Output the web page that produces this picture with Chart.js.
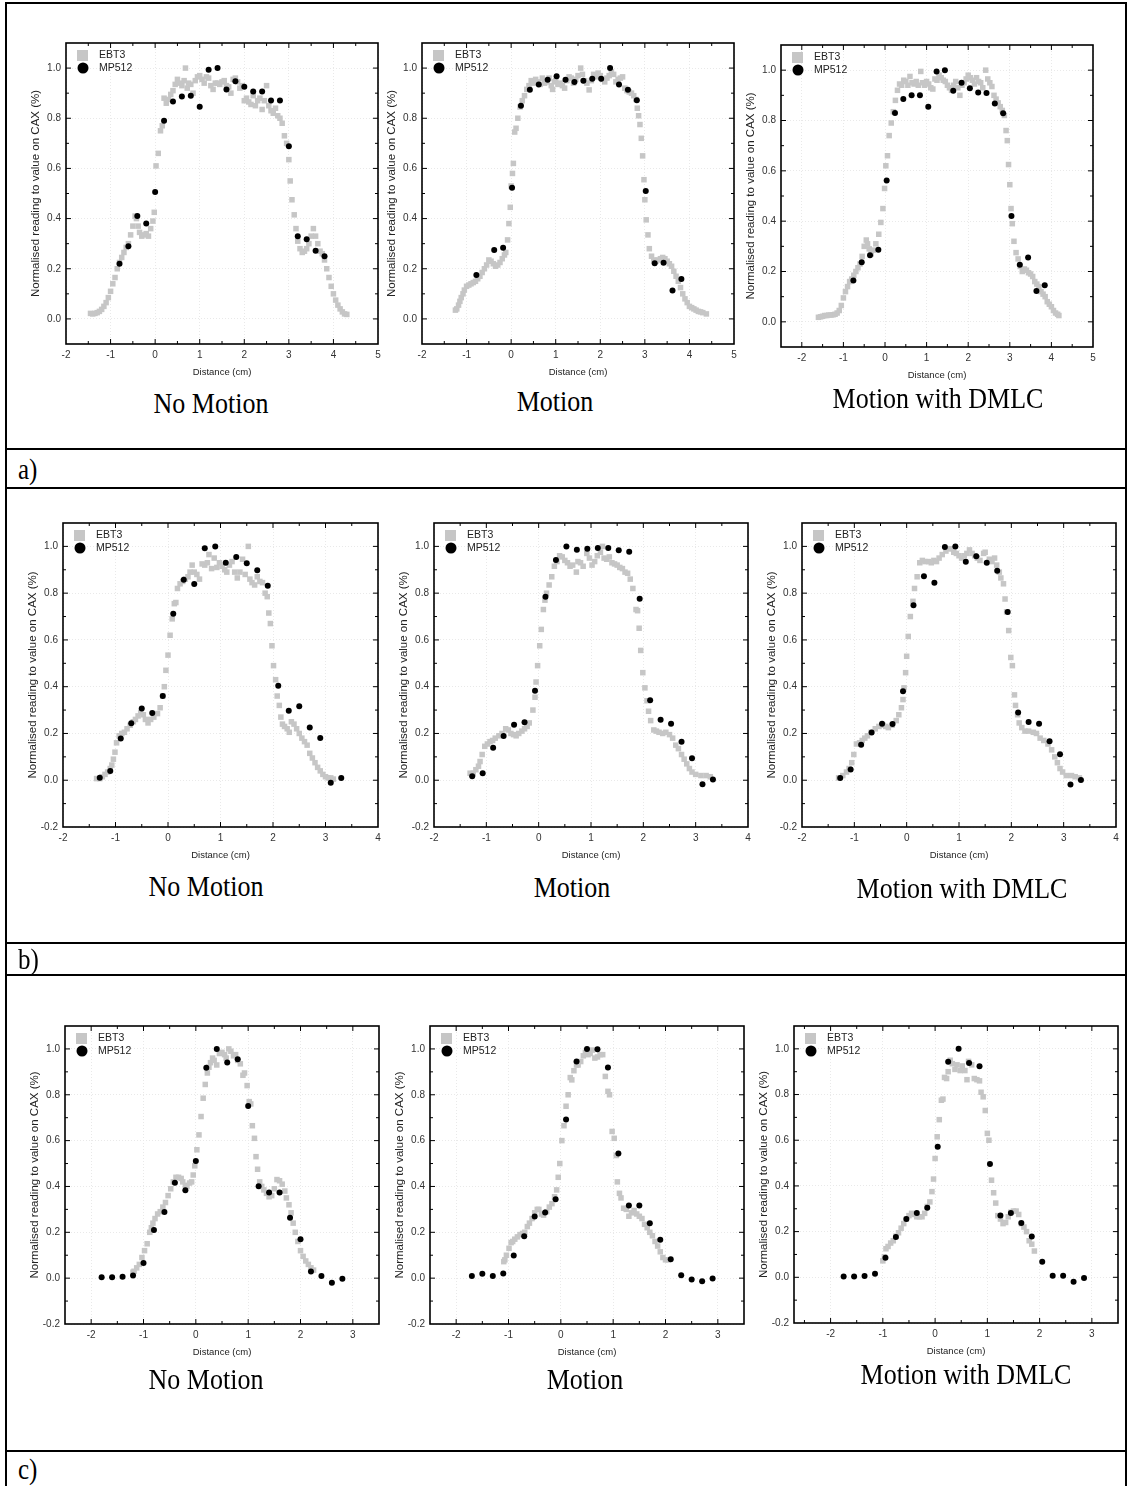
<!DOCTYPE html>
<html>
<head>
<meta charset="utf-8">
<script src="https://cdn.jsdelivr.net/npm/chart.js@4.4.1/dist/chart.umd.min.js"></script>
<style>
body{margin:0;background:#fff;}
#page{position:relative;width:1129px;height:1486px;overflow:hidden;background:#fff;}
.hl{position:absolute;height:2px;background:#000;}
.vl{position:absolute;width:2px;background:#000;}
.cap{position:absolute;font-family:"Liberation Serif","Times New Roman",serif;font-size:26px;color:#000;white-space:nowrap;transform:translate(-50%,-50%) scaleY(1.15);}
.tag{position:absolute;font-family:"Liberation Serif","Times New Roman",serif;font-size:25px;color:#000;transform:translateY(-50%) scaleY(1.15);}
canvas{position:absolute;}
</style>
</head>
<body>
<div id="page"></div>
<script>
// tick labels
const xTicksA = [-2, -1, 0, 1, 2, 3, 4, 5];
const xTicksB = [-2, -1, 0, 1, 2, 3, 4];
const xTicksC = [-2, -1, 0, 1, 2, 3];
const yTicksA = [0, 0.2, 0.4, 0.6, 0.8, 1.0];
const yTicksBC = [-0.2, 0, 0.2, 0.4, 0.6, 0.8, 1.0];

const captions = ['No Motion', 'Motion', 'Motion with DMLC'];
const rowTags = ['a)', 'b)', 'c)'];

// ---- row a ----
const mpX_a1 = [-0.8,-0.6,-0.4,-0.2,0,0.2,0.4,0.6,0.8,1.0,1.2,1.4,1.6,1.8,2.0,2.2,2.4,2.6,2.8,3.0,3.2,3.4,3.6,3.8];
const mpY_a1 = [0.22,0.29,0.41,0.38,0.506,0.79,0.867,0.887,0.89,0.846,0.993,1.0,0.915,0.948,0.926,0.907,0.907,0.871,0.871,0.688,0.33,0.318,0.272,0.25];
const ebt3_a1 = [[-1.45,0.022],[-1.4,0.02],[-1.35,0.022],[-1.3,0.025],[-1.25,0.03],[-1.2,0.038],[-1.15,0.05],[-1.1,0.065],[-1.05,0.085],[-1.0,0.11],[-0.95,0.14],[-0.9,0.165],[-0.85,0.2],[-0.8,0.225],[-0.75,0.245],[-0.7,0.265],[-0.65,0.285],[-0.6,0.3],[-0.55,0.335],[-0.5,0.37],[-0.45,0.41],[-0.42,0.4],[-0.38,0.37],[-0.35,0.345],[-0.3,0.33],[-0.25,0.335],[-0.2,0.34],[-0.15,0.33],[-0.1,0.36],[-0.05,0.39],[-0.02,0.425],[0.02,0.61],[0.07,0.66],[0.12,0.75],[0.16,0.77],[0.2,0.88],[0.25,0.86],[0.3,0.875],[0.35,0.895],[0.4,0.91],[0.45,0.935],[0.5,0.955],[0.55,0.94],[0.6,0.93],[0.65,0.95],[0.68,1.0],[0.72,0.92],[0.75,0.94],[0.8,0.935],[0.85,0.9],[0.9,0.95],[0.95,0.965],[1.0,0.97],[1.05,0.955],[1.1,0.94],[1.15,0.965],[1.2,0.96],[1.25,0.93],[1.3,0.915],[1.35,0.94],[1.4,0.94],[1.45,0.935],[1.5,0.945],[1.55,0.95],[1.6,0.93],[1.65,0.925],[1.7,0.9],[1.75,0.955],[1.8,0.96],[1.85,0.945],[1.9,0.92],[1.95,0.93],[2.0,0.87],[2.05,0.88],[2.1,0.865],[2.15,0.855],[2.2,0.89],[2.25,0.85],[2.3,0.87],[2.35,0.88],[2.4,0.835],[2.45,0.87],[2.5,0.93],[2.55,0.85],[2.6,0.83],[2.65,0.82],[2.7,0.84],[2.75,0.81],[2.8,0.8],[2.85,0.78],[2.9,0.73],[2.95,0.7],[3.0,0.635],[3.03,0.55],[3.07,0.475],[3.12,0.415],[3.16,0.36],[3.2,0.31],[3.25,0.28],[3.3,0.265],[3.35,0.27],[3.4,0.28],[3.45,0.3],[3.5,0.33],[3.55,0.36],[3.6,0.33],[3.65,0.3],[3.7,0.27],[3.75,0.26],[3.8,0.235],[3.85,0.2],[3.9,0.165],[3.95,0.13],[4.0,0.1],[4.05,0.075],[4.1,0.055],[4.15,0.04],[4.2,0.028],[4.25,0.02],[4.3,0.018]];

const mpX_a2 = [-0.78,-0.38,-0.18,0.02,0.22,0.42,0.62,0.82,1.02,1.22,1.42,1.62,1.82,2.02,2.22,2.42,2.62,2.82,3.02,3.22,3.42,3.62,3.82];
const mpY_a2 = [0.175,0.275,0.284,0.523,0.85,0.914,0.935,0.953,0.967,0.953,0.945,0.95,0.957,0.957,1.0,0.935,0.914,0.872,0.51,0.222,0.224,0.113,0.159];
const ebt3_a2 = [[-1.25,0.035],[-1.22,0.04],[-1.18,0.055],[-1.15,0.07],[-1.12,0.085],[-1.08,0.1],[-1.05,0.115],[-1.0,0.13],[-0.95,0.135],[-0.9,0.14],[-0.85,0.145],[-0.8,0.15],[-0.75,0.16],[-0.7,0.17],[-0.65,0.185],[-0.6,0.2],[-0.55,0.215],[-0.5,0.235],[-0.45,0.23],[-0.4,0.22],[-0.35,0.21],[-0.3,0.215],[-0.25,0.225],[-0.2,0.24],[-0.15,0.255],[-0.12,0.265],[-0.08,0.315],[-0.05,0.38],[-0.02,0.445],[0.0,0.53],[0.03,0.58],[0.05,0.62],[0.08,0.745],[0.11,0.76],[0.15,0.8],[0.2,0.845],[0.25,0.87],[0.3,0.89],[0.35,0.915],[0.4,0.93],[0.45,0.95],[0.5,0.94],[0.55,0.955],[0.6,0.945],[0.65,0.935],[0.7,0.96],[0.75,0.94],[0.8,0.945],[0.85,0.96],[0.9,0.93],[0.93,0.915],[0.97,0.945],[1.0,0.95],[1.05,0.935],[1.1,0.94],[1.15,0.93],[1.2,0.92],[1.25,0.95],[1.3,0.965],[1.35,0.96],[1.4,0.94],[1.45,0.955],[1.5,0.97],[1.56,1.0],[1.6,0.975],[1.65,0.95],[1.7,0.94],[1.75,0.913],[1.8,0.95],[1.85,0.975],[1.9,0.965],[1.95,0.98],[2.0,0.97],[2.05,0.955],[2.1,0.945],[2.15,0.96],[2.2,0.97],[2.25,0.985],[2.3,0.975],[2.35,0.945],[2.4,0.955],[2.45,0.96],[2.5,0.965],[2.55,0.92],[2.6,0.91],[2.65,0.905],[2.7,0.9],[2.75,0.89],[2.8,0.875],[2.83,0.84],[2.86,0.81],[2.89,0.775],[2.92,0.72],[2.95,0.65],[2.98,0.555],[3.0,0.475],[3.03,0.395],[3.07,0.335],[3.1,0.28],[3.15,0.25],[3.2,0.235],[3.25,0.23],[3.3,0.235],[3.35,0.24],[3.4,0.245],[3.45,0.24],[3.5,0.23],[3.55,0.22],[3.6,0.21],[3.65,0.19],[3.7,0.17],[3.75,0.15],[3.8,0.125],[3.85,0.1],[3.9,0.08],[3.95,0.065],[4.0,0.05],[4.05,0.045],[4.1,0.04],[4.15,0.035],[4.2,0.03],[4.25,0.028],[4.3,0.025],[4.38,0.02]];

const mpX_a3 = [-0.76,-0.56,-0.36,-0.16,0.04,0.24,0.44,0.64,0.84,1.04,1.24,1.44,1.64,1.84,2.04,2.24,2.44,2.64,2.84,3.04,3.24,3.44,3.64,3.84];
const mpY_a3 = [0.164,0.237,0.265,0.286,0.562,0.83,0.885,0.9,0.9,0.855,0.995,1.0,0.918,0.95,0.928,0.911,0.909,0.868,0.829,0.421,0.227,0.256,0.123,0.145];
const ebt3_a3 = [[-1.6,0.018],[-1.55,0.02],[-1.5,0.022],[-1.45,0.025],[-1.4,0.025],[-1.35,0.027],[-1.3,0.027],[-1.25,0.028],[-1.2,0.03],[-1.15,0.035],[-1.1,0.045],[-1.05,0.065],[-1.0,0.095],[-0.95,0.12],[-0.9,0.14],[-0.85,0.16],[-0.8,0.17],[-0.75,0.185],[-0.7,0.2],[-0.65,0.215],[-0.6,0.23],[-0.55,0.26],[-0.5,0.3],[-0.45,0.325],[-0.42,0.31],[-0.38,0.29],[-0.33,0.27],[-0.28,0.285],[-0.22,0.31],[-0.15,0.348],[-0.1,0.395],[-0.05,0.45],[-0.01,0.53],[0.02,0.62],[0.06,0.66],[0.1,0.74],[0.15,0.79],[0.2,0.835],[0.25,0.88],[0.3,0.92],[0.35,0.945],[0.4,0.94],[0.45,0.96],[0.5,0.955],[0.55,0.94],[0.6,0.975],[0.65,0.95],[0.7,0.945],[0.75,0.955],[0.8,0.94],[0.86,0.995],[0.9,0.95],[0.95,0.94],[1.0,0.955],[1.05,0.945],[1.1,0.93],[1.15,0.925],[1.2,0.965],[1.25,0.96],[1.3,0.98],[1.35,0.97],[1.4,0.96],[1.45,0.955],[1.5,0.94],[1.55,0.93],[1.6,0.92],[1.65,0.94],[1.7,0.955],[1.75,0.93],[1.8,0.9],[1.85,0.94],[1.9,0.95],[1.95,0.965],[2.0,0.98],[2.05,0.97],[2.1,0.96],[2.15,0.945],[2.2,0.97],[2.25,0.955],[2.3,0.95],[2.35,0.93],[2.42,1.0],[2.47,0.965],[2.52,0.95],[2.57,0.935],[2.62,0.9],[2.67,0.885],[2.72,0.87],[2.77,0.855],[2.82,0.84],[2.87,0.82],[2.91,0.76],[2.94,0.72],[2.97,0.625],[3.0,0.545],[3.03,0.45],[3.06,0.39],[3.1,0.32],[3.15,0.275],[3.2,0.25],[3.25,0.22],[3.3,0.2],[3.35,0.21],[3.4,0.205],[3.45,0.195],[3.5,0.19],[3.55,0.18],[3.6,0.16],[3.65,0.15],[3.7,0.14],[3.75,0.12],[3.8,0.11],[3.85,0.1],[3.9,0.08],[3.95,0.07],[4.0,0.06],[4.05,0.045],[4.1,0.035],[4.15,0.03],[4.18,0.025]];

// ---- row b ----
const mpX_b1 = [-1.3,-1.1,-0.9,-0.7,-0.5,-0.3,-0.1,0.1,0.3,0.5,0.7,0.9,1.1,1.3,1.5,1.7,1.9,2.1,2.3,2.5,2.7,2.9,3.1,3.3];
const mpY_b1 = [0.011,0.039,0.178,0.244,0.307,0.288,0.36,0.712,0.857,0.839,0.992,1.0,0.93,0.955,0.928,0.898,0.832,0.404,0.297,0.316,0.226,0.181,-0.011,0.01];
const ebt3_b1 = [[-1.36,0.007],[-1.3,0.007],[-1.25,0.015],[-1.2,0.025],[-1.15,0.035],[-1.1,0.05],[-1.07,0.065],[-1.04,0.09],[-1.01,0.12],[-0.98,0.16],[-0.93,0.19],[-0.88,0.2],[-0.83,0.205],[-0.78,0.22],[-0.72,0.235],[-0.66,0.25],[-0.62,0.26],[-0.57,0.275],[-0.52,0.29],[-0.47,0.28],[-0.43,0.26],[-0.38,0.245],[-0.33,0.26],[-0.27,0.27],[-0.2,0.285],[-0.15,0.31],[-0.1,0.36],[-0.07,0.4],[-0.04,0.47],[0.0,0.535],[0.04,0.62],[0.08,0.69],[0.12,0.755],[0.15,0.76],[0.18,0.82],[0.23,0.84],[0.28,0.85],[0.33,0.86],[0.38,0.87],[0.42,0.89],[0.46,0.92],[0.5,0.89],[0.55,0.88],[0.6,0.86],[0.65,0.925],[0.7,0.92],[0.75,0.93],[0.78,0.965],[0.83,0.905],[0.88,0.95],[0.93,0.91],[0.98,0.93],[1.03,0.915],[1.08,0.9],[1.12,0.89],[1.17,0.92],[1.22,0.935],[1.27,0.89],[1.32,0.865],[1.37,0.89],[1.42,0.945],[1.47,0.88],[1.53,1.0],[1.56,0.86],[1.6,0.845],[1.65,0.835],[1.7,0.87],[1.75,0.85],[1.8,0.845],[1.85,0.8],[1.89,0.785],[1.92,0.715],[1.95,0.67],[1.98,0.575],[2.01,0.49],[2.05,0.43],[2.08,0.36],[2.12,0.32],[2.15,0.27],[2.18,0.24],[2.22,0.23],[2.27,0.22],[2.31,0.205],[2.35,0.25],[2.4,0.24],[2.45,0.22],[2.5,0.2],[2.55,0.18],[2.6,0.165],[2.65,0.15],[2.7,0.115],[2.75,0.095],[2.8,0.075],[2.85,0.055],[2.9,0.04],[2.95,0.025],[3.0,0.015],[3.05,0.01],[3.1,0.01],[3.15,0.005]];

const mpX_b2 = [-1.27,-1.07,-0.87,-0.67,-0.47,-0.27,-0.07,0.13,0.33,0.53,0.73,0.93,1.13,1.33,1.53,1.73,1.93,2.13,2.33,2.53,2.73,2.93,3.13,3.33];
const mpY_b2 = [0.017,0.03,0.139,0.189,0.237,0.248,0.383,0.785,0.942,1.0,0.986,0.99,0.993,0.993,0.983,0.977,0.776,0.342,0.259,0.241,0.165,0.094,-0.017,0.003];
const ebt3_b2 = [[-1.31,0.03],[-1.25,0.03],[-1.2,0.045],[-1.15,0.06],[-1.12,0.08],[-1.08,0.11],[-1.03,0.145],[-0.98,0.155],[-0.93,0.165],[-0.88,0.17],[-0.83,0.18],[-0.76,0.19],[-0.7,0.2],[-0.63,0.22],[-0.58,0.215],[-0.53,0.2],[-0.48,0.195],[-0.43,0.19],[-0.38,0.2],[-0.32,0.21],[-0.27,0.22],[-0.22,0.23],[-0.18,0.245],[-0.11,0.3],[-0.07,0.355],[-0.05,0.42],[-0.02,0.49],[0.02,0.575],[0.05,0.645],[0.09,0.73],[0.12,0.77],[0.15,0.8],[0.2,0.835],[0.25,0.87],[0.3,0.915],[0.35,0.935],[0.4,0.96],[0.45,0.955],[0.5,0.94],[0.55,0.93],[0.6,0.915],[0.65,0.92],[0.72,0.89],[0.75,0.935],[0.8,0.93],[0.85,0.915],[0.92,0.97],[0.97,0.95],[1.02,0.92],[1.07,0.935],[1.12,0.96],[1.18,0.975],[1.22,1.0],[1.25,0.95],[1.3,0.945],[1.35,0.955],[1.4,0.93],[1.45,0.925],[1.5,0.92],[1.55,0.91],[1.6,0.905],[1.65,0.89],[1.7,0.885],[1.75,0.86],[1.8,0.82],[1.86,0.73],[1.89,0.725],[1.92,0.65],[1.95,0.555],[1.99,0.46],[2.03,0.395],[2.07,0.34],[2.1,0.295],[2.14,0.255],[2.2,0.215],[2.25,0.21],[2.3,0.205],[2.37,0.2],[2.43,0.205],[2.5,0.195],[2.56,0.18],[2.62,0.15],[2.67,0.135],[2.73,0.11],[2.78,0.09],[2.83,0.07],[2.88,0.05],[2.93,0.035],[3.0,0.025],[3.1,0.02],[3.2,0.02],[3.28,0.015]];

const mpX_b3 = [-1.27,-1.07,-0.87,-0.67,-0.47,-0.27,-0.07,0.13,0.33,0.53,0.73,0.93,1.13,1.33,1.53,1.73,1.93,2.13,2.33,2.53,2.73,2.93,3.13,3.33];
const mpY_b3 = [0.01,0.046,0.152,0.204,0.242,0.24,0.38,0.748,0.872,0.845,0.997,1.0,0.934,0.958,0.93,0.896,0.719,0.29,0.249,0.241,0.167,0.111,-0.018,0.001];
const ebt3_b3 = [[-1.3,0.01],[-1.22,0.02],[-1.15,0.035],[-1.1,0.05],[-1.05,0.075],[-1.01,0.11],[-0.96,0.155],[-0.9,0.16],[-0.85,0.17],[-0.8,0.18],[-0.75,0.19],[-0.68,0.205],[-0.6,0.22],[-0.53,0.23],[-0.45,0.235],[-0.4,0.23],[-0.35,0.225],[-0.28,0.235],[-0.2,0.255],[-0.15,0.28],[-0.1,0.31],[-0.07,0.345],[-0.05,0.395],[-0.02,0.46],[0.0,0.53],[0.03,0.615],[0.07,0.7],[0.12,0.765],[0.15,0.82],[0.2,0.87],[0.25,0.93],[0.3,0.94],[0.35,0.935],[0.42,0.935],[0.47,0.93],[0.52,0.94],[0.57,0.935],[0.62,0.95],[0.68,0.965],[0.75,0.98],[0.8,0.99],[0.85,0.99],[0.9,0.975],[0.95,0.97],[1.0,0.96],[1.05,0.95],[1.1,0.96],[1.15,0.97],[1.2,0.985],[1.25,0.97],[1.3,0.96],[1.35,0.95],[1.4,0.94],[1.47,0.97],[1.5,0.975],[1.58,0.945],[1.63,0.935],[1.68,0.95],[1.72,0.92],[1.77,0.89],[1.8,0.865],[1.85,0.84],[1.88,0.775],[1.91,0.72],[1.95,0.64],[1.99,0.525],[2.02,0.49],[2.06,0.365],[2.08,0.32],[2.12,0.28],[2.15,0.245],[2.2,0.225],[2.26,0.21],[2.33,0.21],[2.42,0.205],[2.48,0.2],[2.55,0.18],[2.62,0.17],[2.7,0.155],[2.77,0.13],[2.83,0.1],[2.88,0.075],[2.93,0.05],[2.98,0.035],[3.05,0.02],[3.15,0.02],[3.22,0.015],[3.3,0.01]];

// ---- row c ----
const mpX_c1 = [-1.8,-1.6,-1.4,-1.2,-1.0,-0.8,-0.6,-0.4,-0.2,0,0.2,0.4,0.6,0.8,1.0,1.2,1.4,1.6,1.8,2.0,2.2,2.4,2.6,2.8];
const mpY_c1 = [0.004,0.004,0.006,0.012,0.066,0.21,0.289,0.416,0.383,0.511,0.918,1.0,0.941,0.955,0.751,0.401,0.374,0.374,0.263,0.17,0.029,0.009,-0.02,-0.003];
const ebt3_c1 = [[-1.2,0.026],[-1.18,0.03],[-1.13,0.045],[-1.08,0.06],[-1.03,0.09],[-0.98,0.12],[-0.93,0.15],[-0.88,0.2],[-0.85,0.22],[-0.82,0.24],[-0.78,0.26],[-0.73,0.28],[-0.68,0.29],[-0.63,0.31],[-0.58,0.33],[-0.53,0.36],[-0.48,0.39],[-0.43,0.42],[-0.38,0.44],[-0.33,0.44],[-0.28,0.435],[-0.25,0.42],[-0.2,0.405],[-0.17,0.4],[-0.12,0.415],[-0.08,0.42],[-0.05,0.45],[-0.02,0.49],[0.02,0.56],[0.06,0.625],[0.1,0.705],[0.14,0.785],[0.18,0.845],[0.22,0.895],[0.25,0.92],[0.28,0.94],[0.32,0.96],[0.35,0.95],[0.4,0.93],[0.45,0.98],[0.5,0.985],[0.55,0.975],[0.58,0.96],[0.63,1.0],[0.67,0.99],[0.72,0.97],[0.76,0.975],[0.8,0.95],[0.85,0.935],[0.9,0.885],[0.93,0.895],[0.98,0.84],[1.02,0.77],[1.05,0.76],[1.08,0.665],[1.12,0.61],[1.15,0.53],[1.18,0.475],[1.22,0.42],[1.26,0.4],[1.3,0.385],[1.35,0.37],[1.4,0.355],[1.45,0.36],[1.5,0.39],[1.55,0.43],[1.6,0.425],[1.65,0.41],[1.7,0.38],[1.73,0.35],[1.78,0.32],[1.82,0.285],[1.86,0.24],[1.9,0.2],[1.95,0.16],[2.0,0.12],[2.05,0.095],[2.1,0.075],[2.15,0.06],[2.2,0.045],[2.25,0.035]];

const mpX_c2 = [-1.7,-1.5,-1.3,-1.1,-0.9,-0.7,-0.5,-0.3,-0.1,0.1,0.3,0.5,0.7,0.9,1.1,1.3,1.5,1.7,1.9,2.1,2.3,2.5,2.7,2.9];
const mpY_c2 = [0.009,0.019,0.009,0.02,0.099,0.183,0.269,0.286,0.344,0.692,0.945,1.0,0.999,0.919,0.544,0.317,0.317,0.24,0.167,0.082,0.013,-0.006,-0.013,-0.001];
const ebt3_c2 = [[-1.09,0.072],[-1.07,0.08],[-1.04,0.1],[-0.99,0.13],[-0.95,0.155],[-0.92,0.16],[-0.88,0.17],[-0.83,0.18],[-0.78,0.19],[-0.73,0.195],[-0.69,0.2],[-0.64,0.225],[-0.6,0.24],[-0.55,0.26],[-0.5,0.285],[-0.45,0.3],[-0.42,0.3],[-0.37,0.28],[-0.33,0.275],[-0.27,0.29],[-0.22,0.31],[-0.17,0.325],[-0.12,0.355],[-0.08,0.385],[-0.05,0.44],[-0.02,0.5],[0.02,0.6],[0.06,0.665],[0.1,0.75],[0.14,0.8],[0.18,0.875],[0.21,0.865],[0.25,0.905],[0.3,0.93],[0.33,0.93],[0.38,0.945],[0.43,0.97],[0.47,0.985],[0.52,0.975],[0.56,0.98],[0.6,0.995],[0.65,0.96],[0.7,0.965],[0.75,0.975],[0.8,0.975],[0.85,0.88],[0.9,0.815],[0.93,0.8],[0.98,0.64],[1.02,0.61],[1.06,0.535],[1.08,0.42],[1.12,0.37],[1.15,0.35],[1.2,0.305],[1.25,0.3],[1.3,0.27],[1.35,0.285],[1.4,0.295],[1.45,0.28],[1.5,0.27],[1.55,0.26],[1.6,0.235],[1.65,0.22],[1.7,0.2],[1.75,0.185],[1.8,0.16],[1.85,0.14],[1.9,0.115],[1.95,0.09],[2.0,0.08],[2.05,0.08]];

const mpX_c3 = [-1.75,-1.55,-1.35,-1.15,-0.95,-0.75,-0.55,-0.35,-0.15,0.05,0.25,0.45,0.65,0.85,1.05,1.25,1.45,1.65,1.85,2.05,2.25,2.45,2.65,2.85];
const mpY_c3 = [0.003,0.003,0.006,0.016,0.086,0.176,0.255,0.281,0.304,0.571,0.944,1.0,0.938,0.924,0.496,0.271,0.282,0.238,0.179,0.068,0.007,0.007,-0.019,-0.003];
const ebt3_c3 = [[-1.0,0.072],[-0.97,0.09],[-0.94,0.125],[-0.9,0.135],[-0.85,0.15],[-0.8,0.16],[-0.75,0.18],[-0.7,0.195],[-0.65,0.215],[-0.6,0.235],[-0.55,0.255],[-0.5,0.27],[-0.45,0.28],[-0.4,0.275],[-0.35,0.265],[-0.3,0.265],[-0.25,0.265],[-0.2,0.28],[-0.15,0.31],[-0.1,0.33],[-0.06,0.375],[-0.03,0.43],[0.0,0.52],[0.04,0.615],[0.08,0.69],[0.12,0.775],[0.15,0.78],[0.18,0.875],[0.22,0.87],[0.25,0.9],[0.29,0.95],[0.33,0.935],[0.38,0.91],[0.42,0.93],[0.48,0.905],[0.52,0.925],[0.57,0.905],[0.61,0.865],[0.64,0.945],[0.7,0.93],[0.75,0.87],[0.8,0.865],[0.85,0.86],[0.88,0.81],[0.92,0.79],[0.96,0.73],[1.0,0.63],[1.03,0.6],[1.08,0.425],[1.12,0.37],[1.16,0.325],[1.2,0.27],[1.25,0.255],[1.3,0.235],[1.35,0.24],[1.4,0.265],[1.45,0.285],[1.5,0.29],[1.55,0.29],[1.6,0.275],[1.65,0.235],[1.7,0.22],[1.75,0.2],[1.8,0.16],[1.85,0.145],[1.9,0.115]];

const page = document.getElementById('page');

// inward ticks on all four sides, frame, legend in the top left corner
const framePlugin = {
    id: 'frame',
    afterDraw(chart) {
        const ctx = chart.ctx, a = chart.chartArea;
        const xs = chart.scales.x, ys = chart.scales.y;
        ctx.save();
        ctx.strokeStyle = '#000';
        ctx.lineWidth = 1;
        function seg(x1, y1, x2, y2) {
            ctx.beginPath(); ctx.moveTo(x1, y1); ctx.lineTo(x2, y2); ctx.stroke();
        }
        function ticksFor(scale, sub) {
            const major = scale.ticks.map(t => t.value);
            const step = (major[1] - major[0]) / sub;
            let v = major[0];
            while (v - step >= scale.min - 1e-9) v -= step;
            const out = [];
            for (; v <= scale.max + 1e-9; v += step) {
                const isMajor = major.some(m => Math.abs(m - v) < 1e-6);
                out.push([v, isMajor ? 5 : 3]);
            }
            return out;
        }
        ticksFor(xs, 2).forEach(([v, len]) => {
            const px = xs.getPixelForValue(v);
            if (px < a.left + 1 || px > a.right - 1) return;
            seg(px, a.bottom, px, a.bottom - len);
            seg(px, a.top, px, a.top + len);
        });
        ticksFor(ys, 2).forEach(([v, len]) => {
            const py = ys.getPixelForValue(v);
            if (py < a.top + 1 || py > a.bottom - 1) return;
            seg(a.left, py, a.left + len, py);
            seg(a.right, py, a.right - len, py);
        });
        ctx.lineWidth = 1.6;
        ctx.strokeRect(a.left, a.top, a.right - a.left, a.bottom - a.top);

        // legend
        const ds = chart.data.datasets;
        ctx.fillStyle = ds[0].pointBackgroundColor;
        ctx.fillRect(a.left + 11, a.top + 7, 11, 11);
        ctx.fillStyle = ds[1].pointBackgroundColor;
        ctx.beginPath();
        ctx.arc(a.left + 17, a.top + 25, 5.5, 0, Math.PI * 2);
        ctx.fill();
        ctx.font = '10.5px "Liberation Sans", Arial, sans-serif';
        ctx.fillStyle = '#222';
        ctx.textBaseline = 'middle';
        ctx.fillText(ds[0].label, a.left + 33, a.top + 12.5);
        ctx.fillText(ds[1].label, a.left + 33, a.top + 25.5);
        ctx.restore();
    }
};

function addPanel(p) {
    const L = 64, T = 8, R = 10, B = 40;
    const pw = p.box[2] - p.box[0], ph = p.box[3] - p.box[1];
    const cv = document.createElement('canvas');
    cv.width = pw + L + R;
    cv.height = ph + T + B;
    cv.style.left = (p.box[0] - L) + 'px';
    cv.style.top = (p.box[1] - T) + 'px';
    page.appendChild(cv);

    new Chart(cv, {
        type: 'scatter',
        data: {
            datasets: [{
                    label: 'EBT3',
                    data: p.ebt.map(d => ({x: d[0], y: d[1]})),
                    pointStyle: 'rect',
                    pointRadius: 3.9,
                    pointBackgroundColor: '#c6c6c6',
                    pointBorderWidth: 0,
                    order: 2
                }, {
                    label: 'MP512',
                    data: p.mx.map((x, i) => ({x: x, y: p.my[i]})),
                    pointStyle: 'circle',
                    pointRadius: 3,
                    pointBackgroundColor: '#000',
                    pointBorderWidth: 0,
                    order: 1
                }]
        },
        options: {
            responsive: false,
            animation: false,
            devicePixelRatio: 1,
            layout: {padding: {top: T, right: R, left: 0, bottom: 0}},
            plugins: {legend: {display: false}, tooltip: {enabled: false}},
            scales: {
                x: {
                    type: 'linear',
                    min: p.xr[0],
                    max: p.xr[1],
                    afterBuildTicks: s => { s.ticks = p.xt.map(v => ({value: v})); },
                    afterFit: s => { s.height = B; },
                    grid: {color: '#e9e9e9', drawTicks: false},
                    border: {display: false, dash: [1, 2]},
                    ticks: {padding: 5, color: '#333', maxRotation: 0,
                        font: {family: '"Liberation Sans", Arial, sans-serif', size: 10},
                        callback: v => String(v)},
                    title: {display: true, text: 'Distance (cm)', color: '#222',
                        font: {family: '"Liberation Sans", Arial, sans-serif', size: 9.5},
                        padding: {top: 0, bottom: 6}}
                },
                y: {
                    type: 'linear',
                    min: p.yr[0],
                    max: p.yr[1],
                    afterBuildTicks: s => { s.ticks = p.yt.map(v => ({value: v})); },
                    afterFit: s => { s.width = L; },
                    grid: {color: '#e9e9e9', drawTicks: false},
                    border: {display: false, dash: [1, 2]},
                    ticks: {padding: 5, color: '#333',
                        font: {family: '"Liberation Sans", Arial, sans-serif', size: 10},
                        callback: v => Number(v).toFixed(1)},
                    title: {display: true, text: 'Normalised reading to value on CAX (%)', color: '#222',
                        font: {family: '"Liberation Sans", Arial, sans-serif', size: 11.5},
                        padding: {top: 27, bottom: 0}}
                }
            }
        },
        plugins: [framePlugin]
    });
}

const panels = [
    {box: [66, 40, 378, 344], xr: [-2, 5], yr: [-0.1, 1.1], xt: xTicksA, yt: yTicksA, ebt: ebt3_a1, mx: mpX_a1, my: mpY_a1},
    {box: [422, 40, 734, 344], xr: [-2, 5], yr: [-0.1, 1.1], xt: xTicksA, yt: yTicksA, ebt: ebt3_a2, mx: mpX_a2, my: mpY_a2},
    {box: [781, 42, 1093, 347], xr: [-2.5, 5], yr: [-0.1, 1.1], xt: xTicksA, yt: yTicksA, ebt: ebt3_a3, mx: mpX_a3, my: mpY_a3},
    {box: [63, 520, 378, 827], xr: [-2, 4], yr: [-0.2, 1.1], xt: xTicksB, yt: yTicksBC, ebt: ebt3_b1, mx: mpX_b1, my: mpY_b1},
    {box: [434, 520, 748, 827], xr: [-2, 4], yr: [-0.2, 1.1], xt: xTicksB, yt: yTicksBC, ebt: ebt3_b2, mx: mpX_b2, my: mpY_b2},
    {box: [802, 520, 1116, 827], xr: [-2, 4], yr: [-0.2, 1.1], xt: xTicksB, yt: yTicksBC, ebt: ebt3_b3, mx: mpX_b3, my: mpY_b3},
    {box: [65, 1023, 379, 1324], xr: [-2.5, 3.5], yr: [-0.2, 1.1], xt: xTicksC, yt: yTicksBC, ebt: ebt3_c1, mx: mpX_c1, my: mpY_c1},
    {box: [430, 1023, 744, 1324], xr: [-2.5, 3.5], yr: [-0.2, 1.1], xt: xTicksC, yt: yTicksBC, ebt: ebt3_c2, mx: mpX_c2, my: mpY_c2},
    {box: [794, 1023, 1118, 1323], xr: [-2.7, 3.5], yr: [-0.2, 1.1], xt: xTicksC, yt: yTicksBC, ebt: ebt3_c3, mx: mpX_c3, my: mpY_c3}
];
panels.forEach(addPanel);

// table rules
function rule(cls, x, y, len) {
    const d = document.createElement('div');
    d.className = cls;
    d.style.left = x + 'px';
    d.style.top = y + 'px';
    if (cls === 'hl') d.style.width = len + 'px'; else d.style.height = len + 'px';
    page.appendChild(d);
}
rule('hl', 5, 2, 1122);
rule('vl', 5, 2, 1484);
rule('vl', 1125, 2, 1484);
[448, 487, 942, 974, 1450].forEach(y => rule('hl', 5, y, 1122));

// captions under each panel and row tags
const capPos = [
    [[211, 404], [555, 402], [938, 399]],
    [[206, 887], [572, 888], [962, 889]],
    [[206, 1380], [585, 1380], [966, 1375]]
];
capPos.forEach(row => row.forEach((pos, i) => {
    const d = document.createElement('div');
    d.className = 'cap';
    d.textContent = captions[i];
    d.style.left = pos[0] + 'px';
    d.style.top = pos[1] + 'px';
    page.appendChild(d);
}));
[470, 960, 1470].forEach((y, i) => {
    const d = document.createElement('div');
    d.className = 'tag';
    d.textContent = rowTags[i];
    d.style.left = '18px';
    d.style.top = y + 'px';
    page.appendChild(d);
});
</script>
</body>
</html>
